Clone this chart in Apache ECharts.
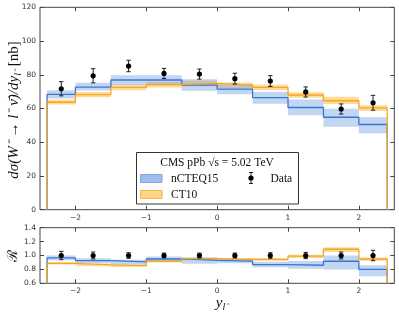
<!DOCTYPE html>
<html>
<head>
<meta charset="utf-8">
<script src="https://cdn.jsdelivr.net/npm/echarts@6/dist/echarts.min.js"></script>
<style>html,body{margin:0;padding:0;background:#fff;}#c{width:399px;height:316px;}</style>
</head>
<body>
<div id="c"></div>
<script>
// ---- data ----
const edges = [-2.4, -2, -1.5, -1, -0.5, 0, 0.5, 1, 1.5, 2, 2.4];
const dataX = [-2.2, -1.75, -1.25, -0.75, -0.25, 0.25, 0.75, 1.25, 1.75, 2.2];
const dataVal = [71.7, 79.4, 85.2, 80.8, 80.4, 77.7, 76.3, 69.8, 59.7, 63.4];
const dataErr = [4.2, 4.2, 3.4, 3.0, 3.0, 3.2, 3.2, 3.0, 3.0, 4.4];

const ncVal = [68.4, 72.7, 76.9, 76.9, 73.9, 71.5, 66.4, 60.6, 54.8, 50.5];
const ncLo  = [66.0, 70.6, 74.0, 74.0, 70.5, 68.4, 62.8, 56.0, 49.2, 45.3];
const ncHi  = [70.8, 75.3, 79.7, 79.7, 77.3, 74.3, 69.8, 65.4, 59.9, 54.8];

const ctVal = [63.7, 68.2, 72.5, 74.1, 74.9, 73.8, 72.5, 68.0, 64.6, 60.4];
const ctLo  = [62.3, 66.6, 70.8, 72.5, 73.2, 72.2, 70.9, 66.3, 62.7, 58.5];
const ctHi  = [65.2, 69.8, 74.2, 75.8, 76.6, 75.4, 74.1, 69.6, 67.0, 62.0];

const rDataVal = [1, 1, 1, 1, 1, 1, 1, 1, 1, 1];
const rDataErr = [0.06, 0.05, 0.04, 0.035, 0.035, 0.035, 0.04, 0.045, 0.05, 0.075];
const rNcVal = [0.966, 0.927, 0.907, 0.95, 0.93, 0.92, 0.87, 0.86, 0.917, 0.80];
const rNcLo  = [0.93, 0.89, 0.87, 0.907, 0.88, 0.89, 0.83, 0.81, 0.80, 0.70];
const rNcHi  = [1.0, 0.96, 0.94, 0.985, 0.97, 0.955, 0.91, 0.92, 1.0, 0.86];
const rCtVal = [0.888, 0.864, 0.854, 0.92, 0.955, 0.945, 0.945, 0.99, 1.09, 0.95];
const rCtLo  = [0.87, 0.845, 0.835, 0.90, 0.935, 0.925, 0.925, 0.965, 1.05, 0.925];
const rCtHi  = [0.905, 0.88, 0.87, 0.935, 0.97, 0.96, 0.96, 1.01, 1.12, 0.97];

const xTicks = [-2, -1, 0, 1, 2];
const topYTicks = [0, 20, 40, 60, 80, 100, 120];
const botYTicks = [0.6, 0.8, 1.0, 1.2, 1.4];

// ---- styles ----
const BLUE = '#3b77cf';
const BLUE_BAND = 'rgba(120,162,226,0.45)';
const ORANGE = '#f6a623';
const ORANGE_BAND = 'rgba(255,190,70,0.55)';
const AX = '#444';
const FONT = 'DejaVu Sans';
const SERIF = 'Liberation Serif';

function stepData(vals, floor) {
  const d = [[edges[0], floor]];
  for (let i = 0; i < vals.length; i++) d.push([edges[i], vals[i]]);
  d.push([edges[edges.length - 1], vals[vals.length - 1]]);
  d.push([edges[edges.length - 1], floor]);
  return d;
}
function bandData(lo, hi) {
  return lo.map((v, i) => [edges[i], edges[i + 1], v, hi[i]]);
}
function errData(xs, vals, errs) {
  return xs.map((x, i) => [x, vals[i], vals[i] - errs[i], vals[i] + errs[i]]);
}
function bandRender(color) {
  return function (params, api) {
    const p1 = api.coord([api.value(0), api.value(3)]);
    const p2 = api.coord([api.value(1), api.value(2)]);
    return { type: 'rect', shape: { x: p1[0], y: p1[1], width: p2[0] - p1[0], height: p2[1] - p1[1] },
      style: { fill: color } };
  };
}
function errRender(params, api) {
  const c = api.coord([api.value(0), api.value(1)]);
  const lo = api.coord([api.value(0), api.value(2)]);
  const hi = api.coord([api.value(0), api.value(3)]);
  const w = 2.2;
  return { type: 'group', children: [
    { type: 'line', shape: { x1: c[0], y1: lo[1], x2: c[0], y2: hi[1] }, style: { stroke: '#222', lineWidth: 1 } },
    { type: 'line', shape: { x1: c[0] - w, y1: lo[1], x2: c[0] + w, y2: lo[1] }, style: { stroke: '#222', lineWidth: 1 } },
    { type: 'line', shape: { x1: c[0] - w, y1: hi[1], x2: c[0] + w, y2: hi[1] }, style: { stroke: '#222', lineWidth: 1 } },
    { type: 'circle', shape: { cx: c[0], cy: c[1], r: 2.6 }, style: { fill: '#000' } }
  ]};
}
const minus = v => String(v).replace('-', '\u2212');

function xAx(grid, pos, labels) {
  return { type: 'value', gridIndex: grid, position: pos, min: -2.5, max: 2.5, interval: 0.5,
    axisLine: { show: false, onZero: false }, splitLine: { show: false },
    axisTick: { show: true, inside: true, length: 4, lineStyle: { color: AX }, customValues: xTicks },
    axisLabel: { show: labels, color: '#333', fontFamily: FONT, fontSize: 7.5, margin: 4,
      customValues: xTicks, formatter: v => minus(v) } };
}
function yAx(grid, pos, labels, ticks, fmt) {
  return { type: 'value', gridIndex: grid, position: pos, min: ticks[0], max: ticks[ticks.length - 1],
    interval: ticks[1] - ticks[0],
    axisLine: { show: false, onZero: false }, splitLine: { show: false },
    axisTick: { show: true, inside: true, length: 4, lineStyle: { color: AX }, customValues: ticks },
    axisLabel: { show: labels, color: '#333', fontFamily: FONT, fontSize: 7.5, margin: 4,
      customValues: ticks, formatter: fmt } };
}

const chart = echarts.init(document.getElementById('c'), null, { renderer: 'canvas' });
const option = {
  animation: false,
  backgroundColor: '#fff',
  grid: [
    { left: 40, top: 7.3, width: 354.3, height: 202.4, show: true, borderColor: AX, borderWidth: 1, backgroundColor: 'transparent' },
    { left: 40, top: 227.7, width: 354.3, height: 55.6, show: true, borderColor: AX, borderWidth: 1, backgroundColor: 'transparent' }
  ],
  xAxis: [ xAx(0, 'bottom', true), xAx(0, 'top', false), xAx(1, 'bottom', true), xAx(1, 'top', false) ],
  yAxis: [
    yAx(0, 'left', true, topYTicks, v => String(Math.round(v))),
    yAx(0, 'right', false, topYTicks),
    yAx(1, 'left', true, botYTicks, v => v.toFixed(1)),
    yAx(1, 'right', false, botYTicks)
  ],
  series: [
    { type: 'custom', xAxisIndex: 0, yAxisIndex: 0, renderItem: bandRender(ORANGE_BAND), data: bandData(ctLo, ctHi), z: 1, clip: true },
    { type: 'custom', xAxisIndex: 0, yAxisIndex: 0, renderItem: bandRender(BLUE_BAND), data: bandData(ncLo, ncHi), z: 2, clip: true },
    { type: 'line', xAxisIndex: 0, yAxisIndex: 0, step: 'end', data: stepData(ncVal, 0), showSymbol: false, lineStyle: { color: BLUE, width: 1.3 }, z: 3 },
    { type: 'line', xAxisIndex: 0, yAxisIndex: 0, step: 'end', data: stepData(ctVal, 0), showSymbol: false, lineStyle: { color: ORANGE, width: 1.3 }, z: 4 },
    { type: 'custom', xAxisIndex: 0, yAxisIndex: 0, renderItem: errRender, data: errData(dataX, dataVal, dataErr), z: 5 },

    { type: 'custom', xAxisIndex: 2, yAxisIndex: 2, renderItem: bandRender(ORANGE_BAND), data: bandData(rCtLo, rCtHi), z: 1, clip: true },
    { type: 'custom', xAxisIndex: 2, yAxisIndex: 2, renderItem: bandRender(BLUE_BAND), data: bandData(rNcLo, rNcHi), z: 2, clip: true },
    { type: 'line', xAxisIndex: 2, yAxisIndex: 2, step: 'end', data: stepData(rNcVal, 0.6), showSymbol: false, lineStyle: { color: BLUE, width: 1.3 }, z: 3 },
    { type: 'line', xAxisIndex: 2, yAxisIndex: 2, step: 'end', data: stepData(rCtVal, 0.6), showSymbol: false, lineStyle: { color: ORANGE, width: 1.3 }, z: 4 },
    { type: 'custom', xAxisIndex: 2, yAxisIndex: 2, renderItem: errRender, data: errData(dataX, rDataVal, rDataErr), z: 5 }
  ],
  graphic: [
    // y-axis label (top)
    { type: 'text', x: 14, y: 110, rotation: Math.PI / 2, z: 10,
      style: { text: '{i|d\u03c3(W\u207b \u2192 l\u207b \u03bd\u0304)/dy}{s|l\u207b}{r| [nb]}', align: 'center', verticalAlign: 'middle',
        rich: {
          i: { fontFamily: SERIF, fontStyle: 'italic', fontSize: 15, fill: '#111', lineHeight: 18, verticalAlign: 'middle' },
          s: { fontFamily: SERIF, fontStyle: 'italic', fontSize: 10, fill: '#111', lineHeight: 18, verticalAlign: 'bottom' },
          r: { fontFamily: SERIF, fontSize: 15, fill: '#111', lineHeight: 18, verticalAlign: 'middle' }
        } } },
    // y-axis label (bottom)
    { type: 'text', x: 13, y: 256, rotation: Math.PI / 2, z: 10,
      style: { text: '\u211b', align: 'center', verticalAlign: 'middle', fontFamily: 'DejaVu Serif', fontSize: 14, fill: '#111' } },
    // x-axis label
    { type: 'text', x: 222, y: 303, z: 10,
      style: { text: '{i|y}{s|l\u207b}', align: 'center', verticalAlign: 'middle',
        rich: {
          i: { fontFamily: SERIF, fontStyle: 'italic', fontSize: 15, fill: '#111', lineHeight: 18, verticalAlign: 'middle' },
          s: { fontFamily: SERIF, fontStyle: 'italic', fontSize: 10, fill: '#111', lineHeight: 18, verticalAlign: 'bottom' }
        } } },
    // legend box
    { type: 'rect', z: 20, shape: { x: 136.5, y: 152.5, width: 162, height: 51.5 },
      style: { fill: '#fff', stroke: '#333', lineWidth: 1 } },
    { type: 'text', z: 21, x: 217, y: 162.5,
      style: { text: 'CMS pPb \u221as = 5.02 TeV', align: 'center', verticalAlign: 'middle', fontFamily: SERIF, fontSize: 11.5, fill: '#111' } },
    { type: 'rect', z: 21, shape: { x: 140.5, y: 174.5, width: 21.5, height: 8 },
      style: { fill: 'rgba(160,190,236,1)', stroke: 'rgba(130,165,220,1)', lineWidth: 1 } },
    { type: 'text', z: 21, x: 171, y: 178.5,
      style: { text: 'nCTEQ15', align: 'left', verticalAlign: 'middle', fontFamily: SERIF, fontSize: 11.5, fill: '#111' } },
    { type: 'rect', z: 21, shape: { x: 140.5, y: 190.5, width: 21.5, height: 8 },
      style: { fill: 'rgba(255,212,130,1)', stroke: 'rgba(240,180,80,1)', lineWidth: 1 } },
    { type: 'text', z: 21, x: 171, y: 194.5,
      style: { text: 'CT10', align: 'left', verticalAlign: 'middle', fontFamily: SERIF, fontSize: 11.5, fill: '#111' } },
    { type: 'line', z: 21, shape: { x1: 251, y1: 172.5, x2: 251, y2: 183.5 }, style: { stroke: '#222', lineWidth: 1 } },
    { type: 'line', z: 21, shape: { x1: 249, y1: 172.5, x2: 253, y2: 172.5 }, style: { stroke: '#222', lineWidth: 1 } },
    { type: 'line', z: 21, shape: { x1: 249, y1: 183.5, x2: 253, y2: 183.5 }, style: { stroke: '#222', lineWidth: 1 } },
    { type: 'circle', z: 21, shape: { cx: 251, cy: 178, r: 2.6 }, style: { fill: '#000' } },
    { type: 'text', z: 21, x: 270.5, y: 178.5,
      style: { text: 'Data', align: 'left', verticalAlign: 'middle', fontFamily: SERIF, fontSize: 11.5, fill: '#111' } }
  ]
};
chart.setOption(option);
</script>
</body>
</html>
